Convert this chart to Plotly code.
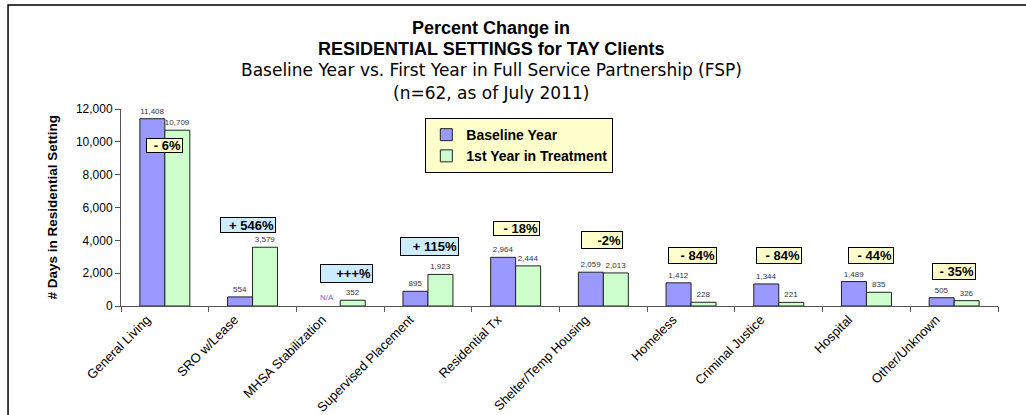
import plotly.graph_objects as go

categories = ["General Living", "SRO w/Lease", "MHSA Stabilization", "Supervised Placement",
              "Residential Tx", "Shelter/Temp Housing", "Homeless", "Criminal Justice",
              "Hospital", "Other/Unknown"]
baseline = [11408, 554, None, 895, 2964, 2059, 1412, 1344, 1489, 505]
first_year = [10709, 3579, 352, 1923, 2444, 2013, 228, 221, 835, 326]
pct_labels = ["- 6%", "+ 546%", "+++%", "+ 115%", "- 18%", "-2%", "- 84%", "- 84%", "- 44%", "- 35%"]
pct_colors = ["#FFFFCC", "#CCECFF", "#CCECFF", "#CCECFF", "#FFFFCC", "#FFFFCC",
              "#FFFFCC", "#FFFFCC", "#FFFFCC", "#FFFFCC"]
# box placement (category offset, y value, width, height)
pct_x = [-0.006, 0.948, 2.069, 3.014, 4.010, 4.981, 6.022, 7.003, 8.050, 8.993]
pct_y = [9807, 4949, 1986, 3635, 4747, 4045, 3086, 3086, 3086, 2090]
pct_w = [33, 52, 49, 55, 43, 38, 45, 42, 42, 40]
pct_h = [11, 12, 15, 15, 11, 14, 13, 13, 13, 13]

FONT = "Liberation Sans, Arial, sans-serif"
WIDE = "DejaVu Sans, Verdana, sans-serif"

def fmt(v):
    return "" if v is None else f"{v:,}"

fig = go.Figure()
fig.add_trace(go.Bar(
    name="Baseline Year", x=categories, y=baseline,
    marker=dict(color="#9999FF", line=dict(color="#222222", width=1)),
    text=[fmt(v) for v in baseline], textposition="outside",
    textfont=dict(size=8, color="#333333", family=FONT), cliponaxis=False,
))
fig.add_trace(go.Bar(
    name="1st Year in Treatment", x=categories, y=first_year,
    marker=dict(color="#CCFFCC", line=dict(color="#222222", width=1)),
    text=[fmt(v) for v in first_year], textposition="outside",
    textfont=dict(size=8, color="#333333", family=FONT), cliponaxis=False,
))

annotations = []
for i in range(len(categories)):
    annotations.append(dict(
        x=pct_x[i], y=pct_y[i], xref="x", yref="y", text=f"<b>{pct_labels[i]}</b>",
        showarrow=False, bgcolor=pct_colors[i], bordercolor="#000000", borderwidth=1,
        borderpad=1, width=pct_w[i], height=pct_h[i], align="right",
        font=dict(size=13, color="#000000", family=FONT),
    ))
# N/A label for missing baseline
for i, v in enumerate(baseline):
    if v is None:
        annotations.append(dict(
            x=categories[i], y=0, xref="x", yref="y", text="N/A", showarrow=False,
            xshift=-13, yanchor="bottom", yshift=2,
            font=dict(size=8, color="#6666CC", family=FONT),
        ))

# y-axis title placed as annotation for exact position
annotations.append(dict(
    x=-0.0786, y=0.5, xref="paper", yref="paper", text="<b># Days in Residential Setting</b>",
    showarrow=False, textangle=-90, xanchor="center", yanchor="middle",
    font=dict(size=13.5, family=FONT, color="#000000"),
))

title_lines = [
    ("<b>Percent Change in</b>", 18, FONT, 1.411),
    ("<b>RESIDENTIAL SETTINGS for TAY Clients</b>", 18, FONT, 1.305),
    ("Baseline Year vs. First Year in Full Service Partnership (FSP)", 17, WIDE, 1.198),
    ("(n=62, as of July 2011)", 17, WIDE, 1.081),
]
for t, s, f, yy in title_lines:
    annotations.append(dict(
        x=0.4219, y=yy, xref="paper", yref="paper", text=t, showarrow=False,
        xanchor="center", yanchor="middle", font=dict(size=s, color="#000000", family=f),
    ))

fig.update_layout(
    width=1026, height=415,
    margin=dict(l=121, r=28, t=109, b=109, autoexpand=False),
    paper_bgcolor="white", plot_bgcolor="white",
    font=dict(family=FONT, color="#000000"),
    barmode="group", bargap=0.43, bargroupgap=0,
    showlegend=True,
    legend=dict(
        x=0.347, y=0.954, xanchor="left", yanchor="top",
        bgcolor="#FFFFCC", bordercolor="#000000", borderwidth=1,
        font=dict(size=14, family=FONT, color="#000000", weight="bold"),
        tracegroupgap=0, itemwidth=30,
    ),
    annotations=annotations,
    shapes=[dict(type="rect", xref="paper", yref="paper",
                 x0=-0.1288, x1=1.04, y0=-0.6, y1=1.528,
                 line=dict(color="#000000", width=1.5))],
)
fig.update_xaxes(
    type="category", showgrid=False, showline=True, linecolor="#555555", linewidth=1,
    ticks="outside", tickson="boundaries", ticklen=5, tickcolor="#555555",
    tickangle=-45, tickfont=dict(size=13, family=FONT, color="#000000"),
    ticklabelshift=-18, automargin=False,
)
fig.update_yaxes(
    range=[0, 12000], dtick=2000, tickformat=",", showgrid=False, zeroline=False,
    showline=True, linecolor="#555555", linewidth=1, ticks="outside", ticklen=5,
    tickcolor="#555555", tickfont=dict(size=12, family=FONT, color="#000000"),
    automargin=False,
)

fig.write_html("out.html", config={"displayModeBar": False},
               post_script="document.body.style.margin='0';")
